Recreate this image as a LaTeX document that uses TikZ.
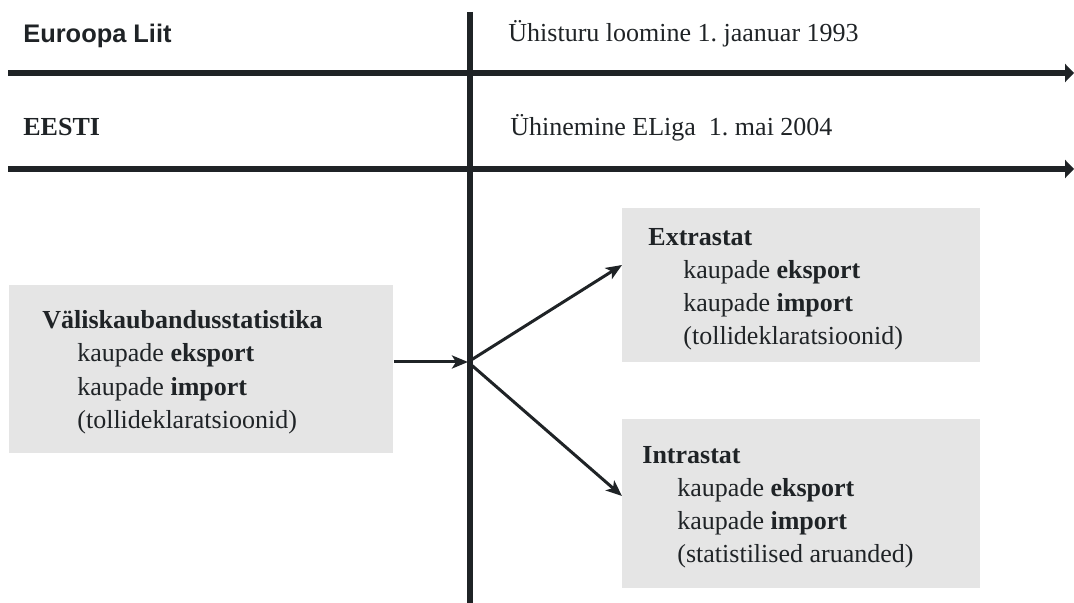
\documentclass[tikz,border=0pt]{standalone}
\usepackage{fontspec}
\setmainfont{Liberation Serif}
\setsansfont{Liberation Sans}
\usetikzlibrary{arrows.meta}
\frenchspacing

\definecolor{inkgray}{HTML}{1F2326}
\definecolor{boxgray}{HTML}{E5E5E5}

\tikzset{
  box/.style={fill=boxgray, inner sep=0pt, anchor=north west},
  txt/.style={anchor=base west, inner sep=0pt, text=inkgray, font=\fontsize{13}{16.5}\selectfont},
  headtxt/.style={anchor=base west, inner sep=0pt, text=inkgray, font=\fontsize{12.7}{15}\selectfont\sffamily\bfseries},
  timeline/.style={line width=2.6pt, inkgray, -{Triangle[length=4.5pt,width=9pt]}},
  flow/.style={line width=1.5pt, inkgray, -{Stealth[length=8pt,width=6.5pt,inset=2pt]}},
}
\newcommand{\ind}{\hspace*{17.5pt}}

\begin{document}
\begin{tikzpicture}[x=0.5pt,y=-0.5pt]
 \useasboundingbox (0,0) rectangle (1074,603);
 % time lines
 \coordinate (eu start) at (8,73);
 \coordinate (eu end) at (1074,73);
 \coordinate (ee start) at (8,169);
 \coordinate (ee end) at (1074,169);
 \coordinate (axis top) at (470,12);
 \coordinate (axis bottom) at (470,603);
 \draw[timeline] (eu start) -- (eu end);
 \draw[timeline] (ee start) -- (ee end);
 \draw[line width=2.75pt, inkgray] (axis top) -- (axis bottom);
 \node[headtxt] (eu) at (23,43) {Euroopa Liit};
 \node[txt, font=\fontsize{13}{16.5}\selectfont\bfseries] (ee) at (23,136) {EESTI};
 \node[txt] (eu date) at (508,42) {Ühisturu loomine 1. jaanuar 1993};
 \node[txt] (ee date) at (510,136) {Ühinemine ELiga~~1. mai 2004};
 % boxes
 \node[box, minimum width=192pt, minimum height=84pt] (valis) at (9,285) {};
 \node[box, minimum width=179pt, minimum height=77pt] (extra) at (622,208) {};
 \node[box, minimum width=179pt, minimum height=84.5pt] (intra) at (622,419) {};
 \node[txt] (valis text) at (42,329) {\begin{tabular}[t]{@{}l@{}}
   \textbf{Väliskaubandusstatistika}\\
   \ind kaupade \textbf{eksport}\\
   \ind kaupade \textbf{import}\\
   \ind (tollideklaratsioonid)\end{tabular}};
 \node[txt] (extra text) at (648,246) {\begin{tabular}[t]{@{}l@{}}
   \textbf{Extrastat}\\
   \ind kaupade \textbf{eksport}\\
   \ind kaupade \textbf{import}\\
   \ind (tollideklaratsioonid)\end{tabular}};
 \node[txt] (intra text) at (642,463) {\begin{tabular}[t]{@{}l@{}}
   \textbf{Intrastat}\\
   \ind kaupade \textbf{eksport}\\
   \ind kaupade \textbf{import}\\
   \ind (statistilised aruanded)\end{tabular}};
 % arrows
 \coordinate (junc) at (468,362);
 \coordinate (extra in) at (622,265);
 \coordinate (intra in) at (622,496);
 \draw[flow] (valis.east |- junc) -- (junc);
 \draw[flow] (junc) -- (extra in);
 \draw[flow] (junc) -- (intra in);
\end{tikzpicture}
\end{document}
